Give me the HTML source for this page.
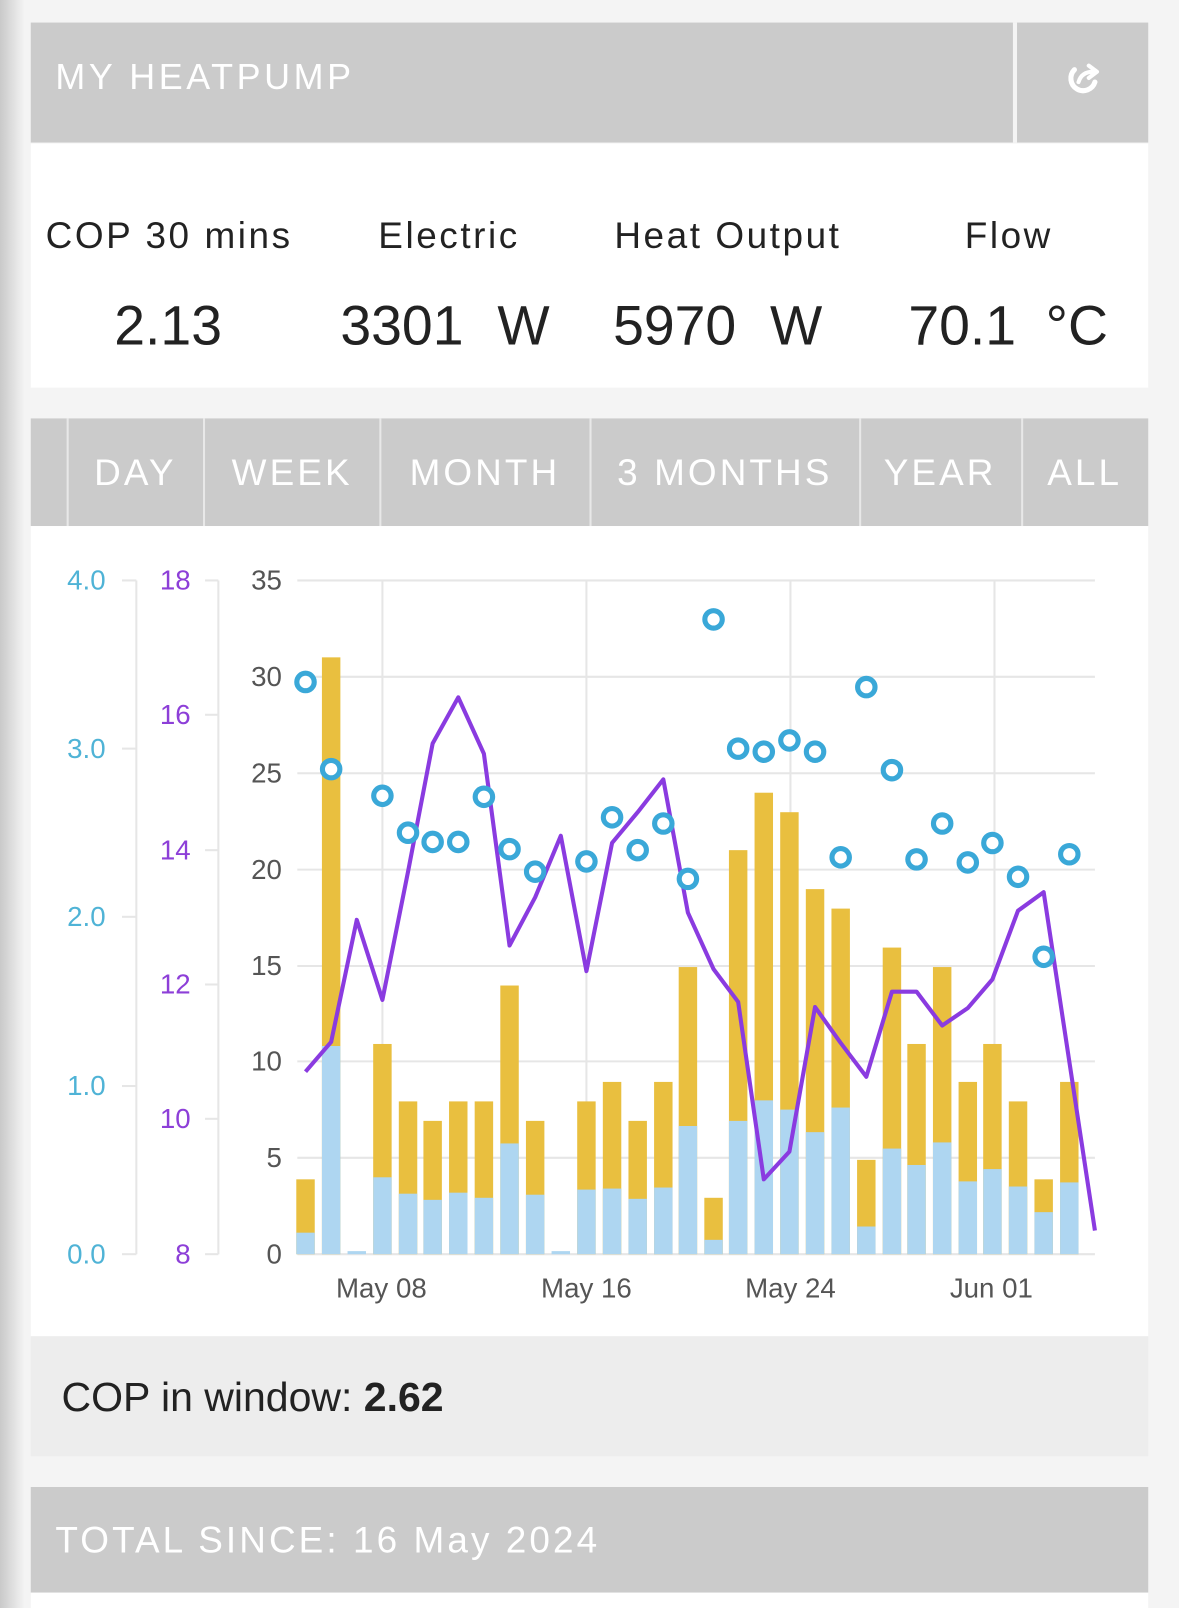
<!DOCTYPE html>
<html><head><meta charset="utf-8"><style>
html,body{margin:0;padding:0;background:#f4f4f4;}
svg{display:block;}
text{font-family:"Liberation Sans",sans-serif;}
</style></head><body>
<svg width="1179" height="1608" viewBox="0 0 1150 1568" preserveAspectRatio="none" xmlns="http://www.w3.org/2000/svg">
<defs><linearGradient id="lg" x1="0" x2="1" y1="0" y2="0"><stop offset="0" stop-color="#c9c9c9"/><stop offset="1" stop-color="#f4f4f4"/></linearGradient></defs>
<rect x="0" y="0" width="1150" height="1568" fill="#f4f4f4"/>
<rect x="0" y="0" width="24" height="1568" fill="url(#lg)"/>
<rect x="30" y="22" width="1090" height="117" fill="#cbcbcb"/>
<rect x="988" y="22" width="4" height="117" fill="#f4f4f4"/>
<text x="54" y="87" font-size="35" fill="#fff" letter-spacing="3.5">MY HEATPUMP</text>
<path d="M1048 68 a12 12 0 1 0 20 12" fill="none" stroke="#fff" stroke-width="5" stroke-linecap="round"/>
<path d="M1052 80 q3 -10 14 -10 M1062 64 l8 6 -8 6" fill="none" stroke="#fff" stroke-width="4" stroke-linecap="round" stroke-linejoin="round"/>
<rect x="30" y="140" width="1090" height="238" fill="#fff"/>
<g font-size="36" fill="#222" text-anchor="middle" letter-spacing="2.5">
<text x="165" y="242">COP 30 mins</text>
<text x="438" y="242">Electric</text>
<text x="710" y="242">Heat Output</text>
<text x="984" y="242">Flow</text>
</g>
<g font-size="54" fill="#222">
<text x="164" y="336" text-anchor="middle">2.13</text>
<text x="332" y="336">3301 <tspan dx="18">W</tspan></text>
<text x="598" y="336">5970 <tspan dx="18">W</tspan></text>
<text x="886" y="336">70.1 <tspan dx="14">°C</tspan></text>
</g>
<rect x="30" y="408" width="1090" height="105" fill="#cbcbcb"/>
<g fill="#e8e8e8"><rect x="65" y="408" width="2" height="105"/><rect x="198" y="408" width="2" height="105"/><rect x="370" y="408" width="2" height="105"/><rect x="575" y="408" width="2" height="105"/><rect x="838" y="408" width="2" height="105"/><rect x="996" y="408" width="2" height="105"/></g>
<g font-size="36" fill="#fff" text-anchor="middle" letter-spacing="3">
<text x="132" y="473">DAY</text><text x="285" y="473">WEEK</text><text x="473" y="473">MONTH</text><text x="707" y="473">3 MONTHS</text><text x="917" y="473">YEAR</text><text x="1058" y="473">ALL</text>
</g>
<rect x="30" y="513" width="1090" height="790" fill="#fff"/>
<g stroke="#e6e6e6" stroke-width="2">
<line x1="290" x2="1068" y1="566" y2="566"/><line x1="290" x2="1068" y1="660" y2="660"/><line x1="290" x2="1068" y1="754" y2="754"/><line x1="290" x2="1068" y1="848" y2="848"/><line x1="290" x2="1068" y1="942" y2="942"/><line x1="290" x2="1068" y1="1035" y2="1035"/><line x1="290" x2="1068" y1="1129" y2="1129"/><line x1="290" x2="1068" y1="1223" y2="1223"/>
<line x1="373" x2="373" y1="566" y2="1223"/><line x1="572" x2="572" y1="566" y2="1223"/><line x1="771" x2="771" y1="566" y2="1223"/><line x1="970" x2="970" y1="566" y2="1223"/>
<line x1="133" x2="133" y1="566" y2="1223"/><line x1="213" x2="213" y1="566" y2="1223"/>
<line x1="119" x2="133" y1="566" y2="566"/><line x1="119" x2="133" y1="730" y2="730"/><line x1="119" x2="133" y1="894" y2="894"/><line x1="119" x2="133" y1="1059" y2="1059"/><line x1="119" x2="133" y1="1223" y2="1223"/>
<line x1="200" x2="213" y1="566" y2="566"/><line x1="200" x2="213" y1="697" y2="697"/><line x1="200" x2="213" y1="829" y2="829"/><line x1="200" x2="213" y1="960" y2="960"/><line x1="200" x2="213" y1="1091" y2="1091"/><line x1="200" x2="213" y1="1223" y2="1223"/>
</g>
<g font-size="27" fill="#4fb3d6" text-anchor="end">
<text x="103" y="575">4.0</text><text x="103" y="739">3.0</text><text x="103" y="903">2.0</text><text x="103" y="1068">1.0</text><text x="103" y="1232">0.0</text>
</g>
<g font-size="27" fill="#8d3fd8" text-anchor="end">
<text x="186" y="575">18</text><text x="186" y="706">16</text><text x="186" y="838">14</text><text x="186" y="969">12</text><text x="186" y="1100">10</text><text x="186" y="1232">8</text>
</g>
<g font-size="27" fill="#555" text-anchor="end">
<text x="275" y="575">35</text><text x="275" y="669">30</text><text x="275" y="763">25</text><text x="275" y="857">20</text><text x="275" y="951">15</text><text x="275" y="1044">10</text><text x="275" y="1138">5</text><text x="275" y="1232">0</text>
</g>
<g font-size="27" fill="#555" text-anchor="middle">
<text x="372" y="1265">May 08</text><text x="572" y="1265">May 16</text><text x="771" y="1265">May 24</text><text x="967" y="1265">Jun 01</text>
</g>
<g fill="#e9bf3f">
<rect x="289" y="1150" width="18" height="73"/><rect x="314" y="641" width="18" height="582"/><rect x="364" y="1018" width="18" height="205"/><rect x="389" y="1074" width="18" height="149"/><rect x="413" y="1093" width="18" height="130"/><rect x="438" y="1074" width="18" height="149"/><rect x="463" y="1074" width="18" height="149"/><rect x="488" y="961" width="18" height="262"/><rect x="513" y="1093" width="18" height="130"/><rect x="563" y="1074" width="18" height="149"/><rect x="588" y="1055" width="18" height="168"/><rect x="613" y="1093" width="18" height="130"/><rect x="638" y="1055" width="18" height="168"/><rect x="662" y="943" width="18" height="280"/><rect x="687" y="1168" width="18" height="55"/><rect x="711" y="829" width="18" height="394"/><rect x="736" y="773" width="18" height="450"/><rect x="761" y="792" width="18" height="431"/><rect x="786" y="867" width="18" height="356"/><rect x="811" y="886" width="18" height="337"/><rect x="836" y="1131" width="18" height="92"/><rect x="861" y="924" width="18" height="299"/><rect x="885" y="1018" width="18" height="205"/><rect x="910" y="943" width="18" height="280"/><rect x="935" y="1055" width="18" height="168"/><rect x="959" y="1018" width="18" height="205"/><rect x="984" y="1074" width="18" height="149"/><rect x="1009" y="1150" width="18" height="73"/><rect x="1034" y="1055" width="18" height="168"/>
</g>
<g fill="#aed6f1">
<rect x="289" y="1202" width="18" height="21"/><rect x="314" y="1020" width="18" height="203"/><rect x="339" y="1220" width="18" height="3"/><rect x="364" y="1148" width="18" height="75"/><rect x="389" y="1164" width="18" height="59"/><rect x="413" y="1170" width="18" height="53"/><rect x="438" y="1163" width="18" height="60"/><rect x="463" y="1168" width="18" height="55"/><rect x="488" y="1115" width="18" height="108"/><rect x="513" y="1165" width="18" height="58"/><rect x="538" y="1220" width="18" height="3"/><rect x="563" y="1160" width="18" height="63"/><rect x="588" y="1159" width="18" height="64"/><rect x="613" y="1169" width="18" height="54"/><rect x="638" y="1158" width="18" height="65"/><rect x="662" y="1098" width="18" height="125"/><rect x="687" y="1209" width="18" height="14"/><rect x="711" y="1093" width="18" height="130"/><rect x="736" y="1073" width="18" height="150"/><rect x="761" y="1082" width="18" height="141"/><rect x="786" y="1104" width="18" height="119"/><rect x="811" y="1080" width="18" height="143"/><rect x="836" y="1196" width="18" height="27"/><rect x="861" y="1120" width="18" height="103"/><rect x="885" y="1136" width="18" height="87"/><rect x="910" y="1114" width="18" height="109"/><rect x="935" y="1152" width="18" height="71"/><rect x="959" y="1140" width="18" height="83"/><rect x="984" y="1157" width="18" height="66"/><rect x="1009" y="1182" width="18" height="41"/><rect x="1034" y="1153" width="18" height="70"/>
</g>
<polyline fill="none" stroke="#8a3be0" stroke-width="4" stroke-linejoin="round" points="298,1045 323,1016 348,897 373,975 398,850 422,725 447,680 472,735 497,922 522,875 547,815 572,947 597,822 622,792 647,760 671,890 696,945 720,977 745,1150 770,1123 795,982 820,1017 845,1050 870,967 894,967 919,1000 944,983 968,955 993,888 1018,870 1068,1200"/>
<g fill="#fff" stroke="#3aa8d8" stroke-width="5">
<circle cx="298" cy="665" r="8.5"/><circle cx="323" cy="750" r="8.5"/><circle cx="373" cy="776" r="8.5"/><circle cx="398" cy="812" r="8.5"/><circle cx="422" cy="821" r="8.5"/><circle cx="447" cy="821" r="8.5"/><circle cx="472" cy="777" r="8.5"/><circle cx="497" cy="828" r="8.5"/><circle cx="522" cy="850" r="8.5"/><circle cx="572" cy="840" r="8.5"/><circle cx="597" cy="797" r="8.5"/><circle cx="622" cy="829" r="8.5"/><circle cx="647" cy="803" r="8.5"/><circle cx="671" cy="857" r="8.5"/><circle cx="696" cy="604" r="8.5"/><circle cx="720" cy="730" r="8.5"/><circle cx="745" cy="733" r="8.5"/><circle cx="770" cy="722" r="8.5"/><circle cx="795" cy="733" r="8.5"/><circle cx="820" cy="836" r="8.5"/><circle cx="845" cy="670" r="8.5"/><circle cx="870" cy="751" r="8.5"/><circle cx="894" cy="838" r="8.5"/><circle cx="919" cy="803" r="8.5"/><circle cx="944" cy="841" r="8.5"/><circle cx="968" cy="822" r="8.5"/><circle cx="993" cy="855" r="8.5"/><circle cx="1018" cy="933" r="8.5"/><circle cx="1043" cy="833" r="8.5"/>
</g>
<rect x="30" y="1303" width="1090" height="117" fill="#ededed"/>
<text x="60" y="1376" font-size="40" fill="#222">COP in window: <tspan font-weight="bold">2.62</tspan></text>
<rect x="30" y="1450" width="1090" height="103" fill="#cbcbcb"/>
<text x="54" y="1514" font-size="36" fill="#fff" letter-spacing="3">TOTAL SINCE: 16 May 2024</text>
<rect x="30" y="1553" width="1090" height="15" fill="#fff"/>
</svg>
</body></html>
